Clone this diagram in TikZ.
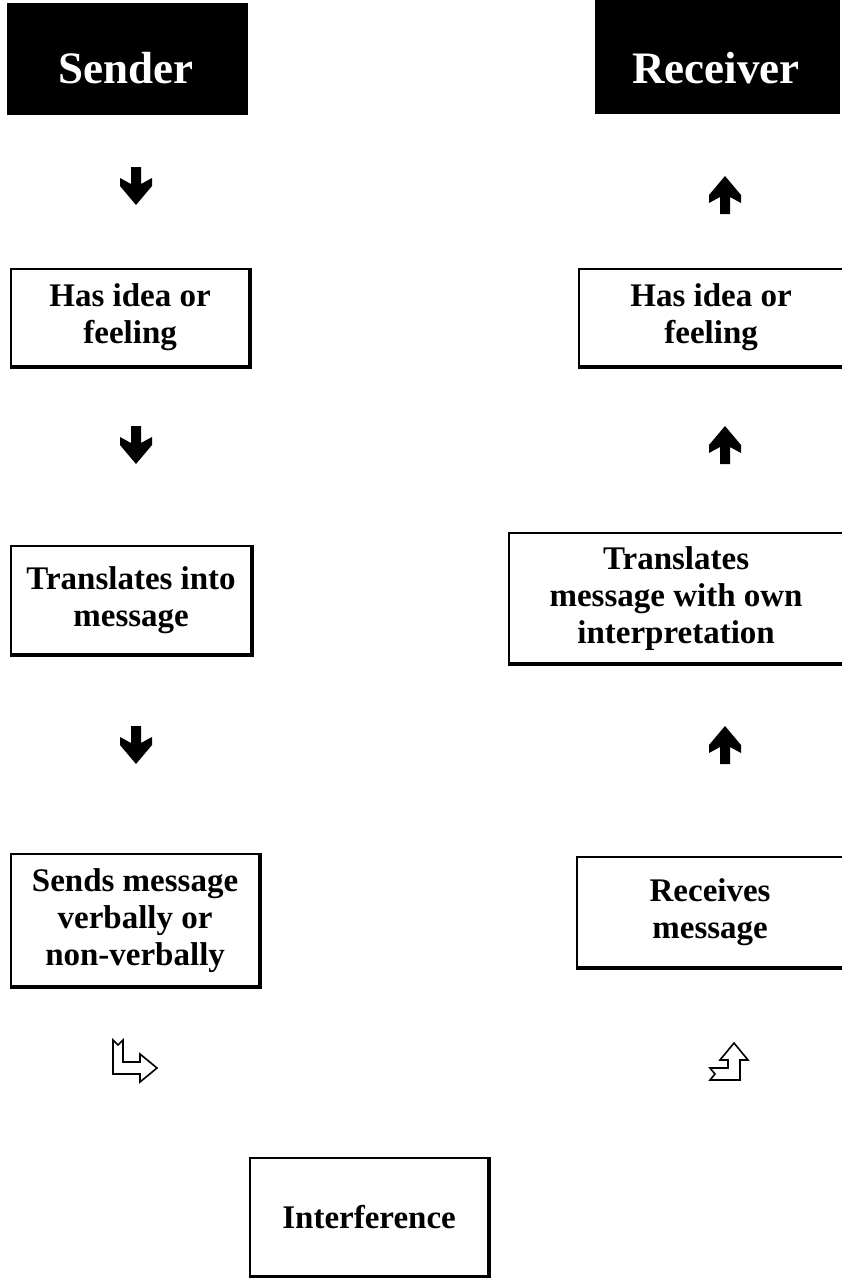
\documentclass[tikz,border=0pt]{standalone}
\usepackage{fontspec}
\setmainfont{Liberation Serif}
\begin{document}
\begin{tikzpicture}[x=1pt,y=-1pt,
  box/.style={draw, line width=2.2pt, align=center, inner sep=0pt,
    font=\fontsize{33}{37}\selectfont\bfseries, anchor=north west},
  hdr/.style={fill=black, draw=none, inner sep=0pt, anchor=north west},
  hdrtext/.style={text=white, font=\fontsize{45}{48}\selectfont\bfseries},
  edge/.style={line width=4.5pt},
  blockarrow/.style={fill=black},
  turnarrow/.style={draw=black, fill=white, line width=1.6pt, line join=miter},
  downarr/.pic={\fill[blockarrow] (-5,-19) -- (5,-19) -- (5,-2) -- (16,-8) -- (16,0) -- (0,19) -- (-16,0) -- (-16,-8) -- (-5,-2) -- cycle;},
  uparr/.pic={\fill[blockarrow] (-5,19) -- (5,19) -- (5,2) -- (16,8) -- (16,0) -- (0,-19) -- (-16,0) -- (-16,8) -- (-5,2) -- cycle;}
]
\useasboundingbox (0,0) rectangle (842,1278);

% headers
\node[hdr, minimum width=241pt, minimum height=112pt] (sh) at (7,3) {};
\node[hdrtext] (sht) at (126,68) {Sender};
\node[hdr, minimum width=245pt, minimum height=114pt] (rh) at (595,0) {};
\node[hdrtext] (rht) at (716,68) {Receiver};

% left column boxes
\node[box, minimum width=238pt, minimum height=97pt] (s1) at (10,268) {Has idea or\\feeling};
\node[box, minimum width=240pt, minimum height=108pt] (s2) at (10,545) {Translates into\\message};
\node[box, minimum width=248pt, minimum height=132pt] (s3) at (10,853) {Sends message\\verbally or\\non-verbally};

% right column boxes
\node[box, minimum width=264pt, minimum height=97pt] (r1) at (578,268) {Has idea or\\feeling};
\node[box, minimum width=334pt, minimum height=130pt] (r2) at (508,532) {Translates\\message with own\\interpretation};
\node[box, minimum width=266pt, minimum height=110pt] (r3) at (576,856) {Receives\\message};

% interference
\node[box, minimum width=238pt, minimum height=118pt] (int) at (249,1157) {Interference};

% heavier right and bottom edges
\foreach \n in {s1,s2,s3,r1,r2,r3,int}
  \draw[edge] (\n.north east) -- (\n.south east) -- (\n.south west);

% block arrows
\pic at (136,186) {downarr};
\pic at (136,445) {downarr};
\pic at (136,745) {downarr};
\pic at (725,195) {uparr};
\pic at (725,445) {uparr};
\pic at (725,745) {uparr};

% turn arrows
\draw[turnarrow] (113,1040) -- (118,1045) -- (123,1040) -- (123,1062) -- (140,1062) -- (140,1054) -- (157,1068) -- (140,1082) -- (140,1074) -- (113,1074) -- cycle;
\draw[turnarrow] (710,1068) -- (715,1074) -- (710,1080) -- (740,1080) -- (740,1060) -- (748,1060) -- (734,1043) -- (720,1060) -- (728,1060) -- (728,1068) -- cycle;
\end{tikzpicture}
\end{document}
